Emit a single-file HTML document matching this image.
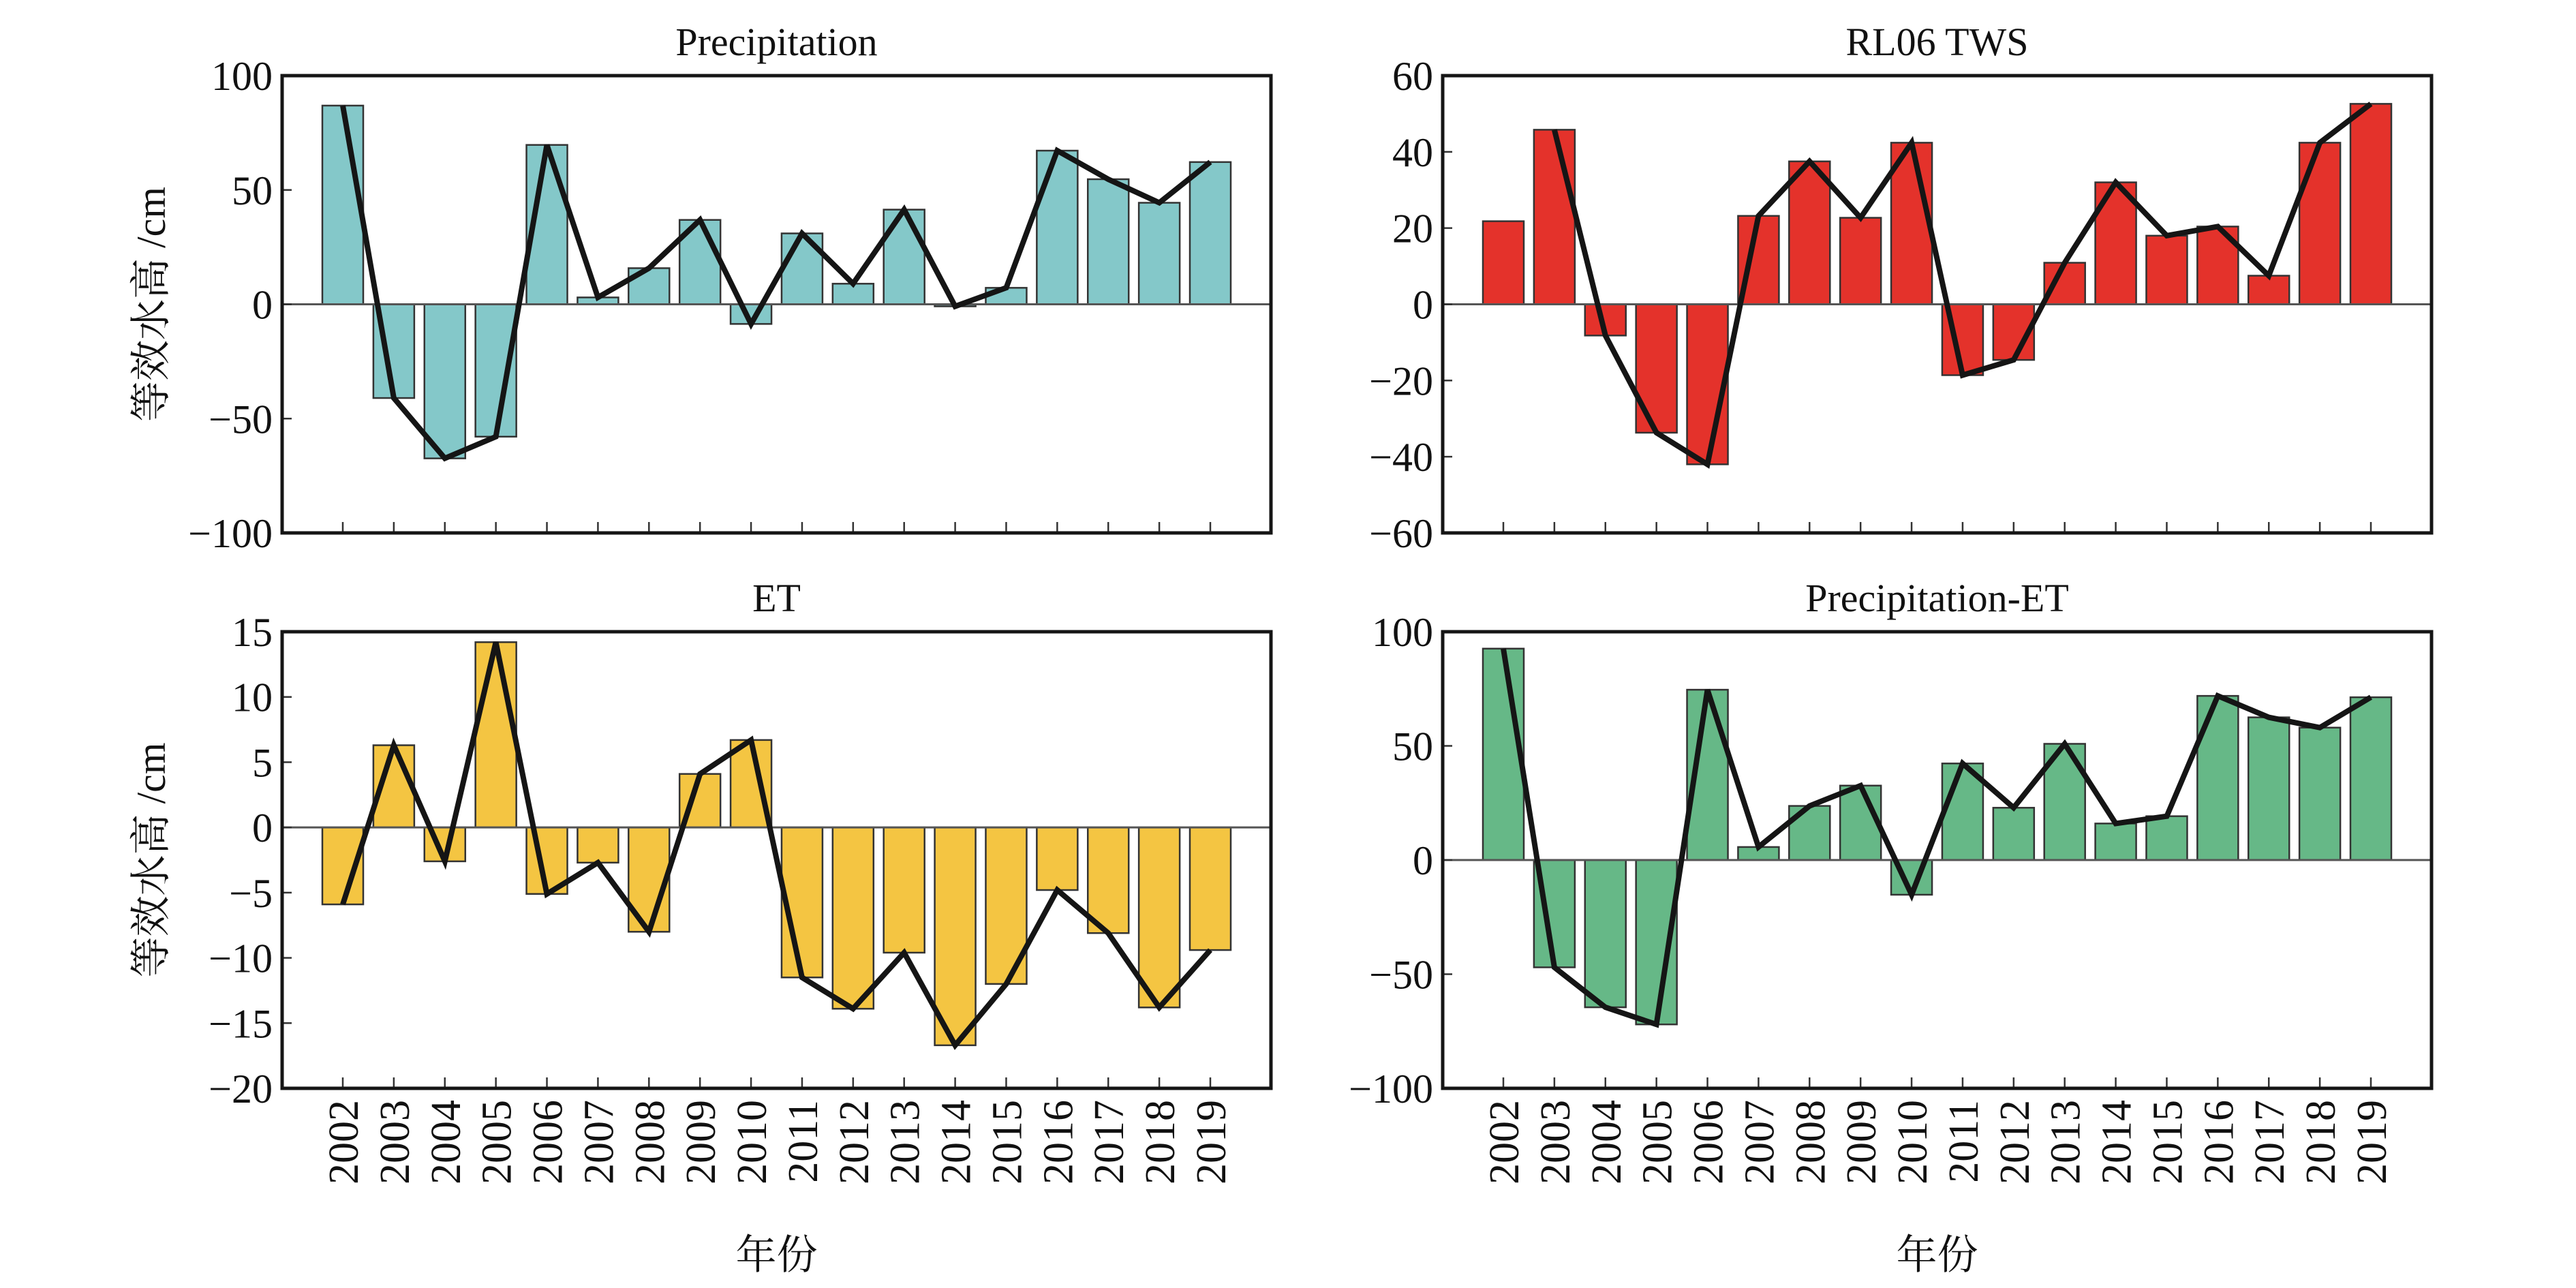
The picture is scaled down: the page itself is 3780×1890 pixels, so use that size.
<!DOCTYPE html>
<html><head><meta charset="utf-8"><style>
html,body{margin:0;padding:0;background:#fff;}
svg{display:block;}
text{font-family:"Liberation Serif","Noto Serif CJK SC",serif;fill:#111;}
</style></head><body>
<svg id="fig" width="3780" height="1890" viewBox="0 0 3780 1890" xmlns="http://www.w3.org/2000/svg"></svg>
<script>
const years = ["2002","2003","2004","2005","2006","2007","2008","2009","2010","2011","2012","2013","2014","2015","2016","2017","2018","2019"];
const precipValues = [86.9,-41,-67.4,-57.9,69.7,3,15.8,36.9,-8.6,31,9,41.4,-0.9,7.2,67.2,54.7,44.4,62.2];
const twsValues = [21.8,45.8,-8.2,-33.7,-42,23.2,37.5,22.7,42.4,-18.6,-14.6,10.9,32,18,20.4,7.5,42.4,52.6];
const etValues = [-5.9,6.3,-2.6,14.2,-5.1,-2.7,-8.0,4.1,6.7,-11.5,-13.9,-9.6,-16.7,-12.0,-4.8,-8.1,-13.8,-9.4];
const petValues = [92.6,-47,-64.5,-72,74.6,5.7,23.7,32.6,-15.2,42.3,22.9,50.9,16,19.2,71.9,62.5,58,71.3];
const precipTicks = [-100,-50,0,50,100];
const twsTicks = [-60,-40,-20,0,20,40,60];
const etTicks = [-20,-15,-10,-5,0,5,10,15];
const petTicks = [-100,-50,0,50,100];

const NS = "http://www.w3.org/2000/svg";
const svg = document.getElementById('fig');
function mk(tag, attrs, parent){
  const e = document.createElementNS(NS, tag);
  for (const k in attrs) e.setAttribute(k, attrs[k]);
  (parent||svg).appendChild(e);
  return e;
}
const panels = [
  {key:"precipitation", title:"Precipitation", vals:precipValues, ticks:precipTicks, x0:414, x1:1865, y0:111, y1:782, color:"#84c8c9", lineStart:0, ylabel:true, xlabels:false},
  {key:"tws", title:"RL06 TWS", vals:twsValues, ticks:twsTicks, x0:2117, x1:3568, y0:111, y1:782, color:"#e4322b", lineStart:1, ylabel:false, xlabels:false},
  {key:"et", title:"ET", vals:etValues, ticks:etTicks, x0:414, x1:1865, y0:927, y1:1597, color:"#f4c542", lineStart:0, ylabel:true, xlabels:true},
  {key:"precip-et", title:"Precipitation-ET", vals:petValues, ticks:petTicks, x0:2117, x1:3568, y0:927, y1:1597, color:"#66b887", lineStart:0, ylabel:false, xlabels:true}
];
panels.forEach(p=>{
  const g = mk('g',{});
  
  
  const lo = p.ticks[0], hi = p.ticks[p.ticks.length-1];
  const yS = v => p.y1 - (v-lo)/(hi-lo)*(p.y1-p.y0);
  const step = (p.x1-p.x0-178)/(years.length-1);
  const xS = i => p.x0 + 89 + i*step;
  const bw = 60;
  // title
  const t = mk('text',{x:(p.x0+p.x1)/2, y:p.y0-30, 'font-size':58, 'text-anchor':'middle'}, g);
  t.textContent = p.title;
  
  
  // bars
  p.vals.forEach((v,i)=>{
    const ya = yS(v), yz = yS(0);
    const r = mk('rect',{x:xS(i)-bw/2, y:Math.min(ya,yz), width:bw, height:Math.abs(ya-yz), fill:p.color, stroke:'#333', 'stroke-width':2.5}, g);
    
    
  });
  // zero line
  const z = mk('line',{x1:p.x0, x2:p.x1, y1:yS(0), y2:yS(0), stroke:'#555', 'stroke-width':3}, g);
  
  
  // trend line
  let d = '';
  for (let i=p.lineStart;i<p.vals.length;i++) d += (i===p.lineStart?'M':'L')+xS(i).toFixed(1)+','+yS(p.vals[i]).toFixed(1);
  const pl = mk('path',{d:d, fill:'none', stroke:'#151515', 'stroke-width':8, 'stroke-linejoin':'miter'}, g);
  
  
  // y ticks
  p.ticks.forEach(tv=>{
    const y = yS(tv);
    if (tv!==lo && tv!==hi) {
      const tk = mk('line',{x1:p.x0, x2:p.x0+14, y1:y, y2:y, stroke:'#333', 'stroke-width':2.5}, g);
      
      
    }
    const lb = mk('text',{x:p.x0-14, y:y+21, 'font-size':60, 'text-anchor':'end'}, g);
    lb.textContent = tv<0 ? '\u2212'+Math.abs(tv) : String(tv);
    
    
  });
  // x ticks
  years.forEach((yr,i)=>{
    const tk = mk('line',{x1:xS(i), x2:xS(i), y1:p.y1, y2:p.y1-16, stroke:'#333', 'stroke-width':2.5}, g);
    
    
    if (p.xlabels) {
      const lb = mk('text',{x:0, y:0, 'font-size':62, 'text-anchor':'end', transform:'translate('+(xS(i)+22)+','+(p.y1+17)+') rotate(-90)'}, g);
      lb.textContent = yr;
      
      
    }
  });
  // frame
  const fr = mk('rect',{x:p.x0, y:p.y0, width:p.x1-p.x0, height:p.y1-p.y0, fill:'none', stroke:'#151515', 'stroke-width':5}, g);
  
  
  if (p.ylabel) {
    const yl = mk('text',{x:0, y:0, 'font-size':60, 'text-anchor':'middle', transform:'translate(242,'+((p.y0+p.y1)/2)+') rotate(-90)'}, g);
    yl.textContent = '等效水高 /cm';
    
    
  }
  if (p.xlabels) {
    const xl = mk('text',{x:(p.x0+p.x1)/2, y:1862, 'font-size':60, 'text-anchor':'middle'}, g);
    xl.textContent = '年份';
    
    
  }
});
</script>
</body></html>
